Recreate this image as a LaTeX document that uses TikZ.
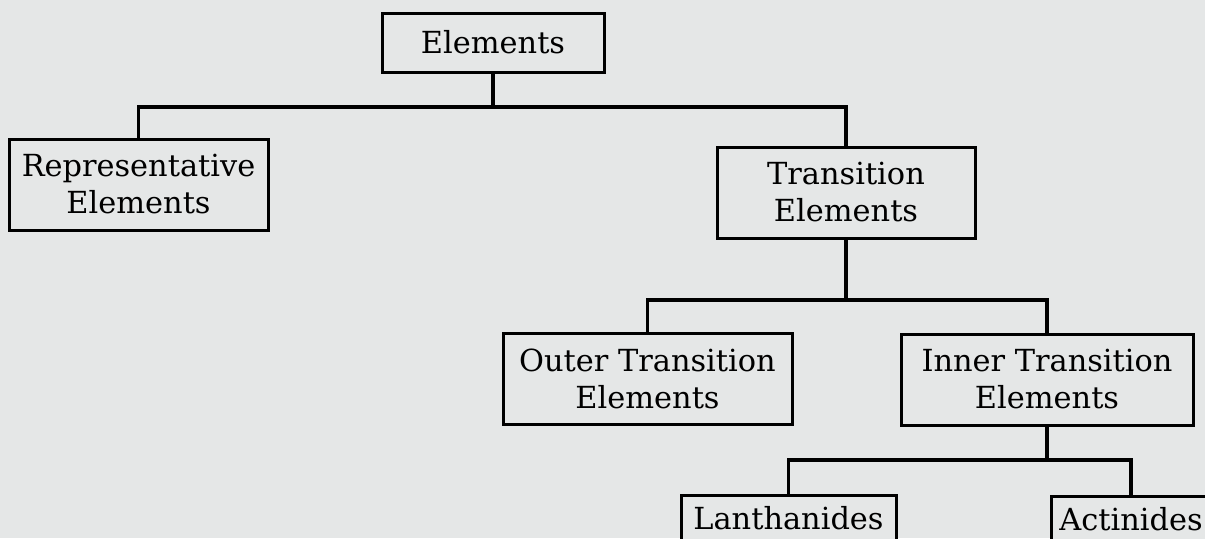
\documentclass[tikz,border=0pt]{standalone}
\usepackage{fontspec}
\setmainfont{DejaVu Serif}
\definecolor{paper}{RGB}{229,231,231}
\begin{document}
\begin{tikzpicture}[x=0.5pt,y=-0.5pt,
  box/.style={draw=black,line width=1.5pt,fill=paper,inner sep=0pt,align=center,
    font=\fontsize{15.2}{18.5}\selectfont},
  link/.style={draw=black,line width=1.6pt}]
\fill[paper] (0,0) rectangle (1205,538);
\useasboundingbox (0,0) rectangle (1205,538);
\clip (0,0) rectangle (1205,538);
\node[box,minimum width=111pt,minimum height=29.5pt] (E) at (493,42.5) {Elements};
\node[box,minimum width=129.5pt,minimum height=45.5pt] (R) at (138.5,184.5) {Representative\\Elements};
\node[box,minimum width=129pt,minimum height=45.5pt] (T) at (846,192.5) {Transition\\Elements};
\node[box,minimum width=144.5pt,minimum height=45.5pt] (O) at (647.5,378.5) {Outer Transition\\Elements};
\node[box,minimum width=146pt,minimum height=45.5pt] (I) at (1047,379.5) {Inner Transition\\Elements};
\node[box,minimum width=107.5pt,minimum height=23pt] (L) at (788.5,518) {Lanthanides};
\node[box,minimum width=80pt,minimum height=23pt] (A) at (1131,519.5) {Actinides};
\coordinate (b1) at (0,107);
\coordinate (b2) at (0,300);
\coordinate (b3) at (0,460);
\draw[link] (E.south) -- (E.south |- b1);
\draw[link] (R.north) -- (R.north |- b1) -- (T.north |- b1) -- (T.north);
\draw[link] (T.south) -- (T.south |- b2);
\draw[link] (O.north) -- (O.north |- b2) -- (I.north |- b2) -- (I.north);
\draw[link] (I.south) -- (I.south |- b3);
\draw[link] (L.north) -- (L.north |- b3) -- (A.north |- b3) -- (A.north);
\end{tikzpicture}
\end{document}
